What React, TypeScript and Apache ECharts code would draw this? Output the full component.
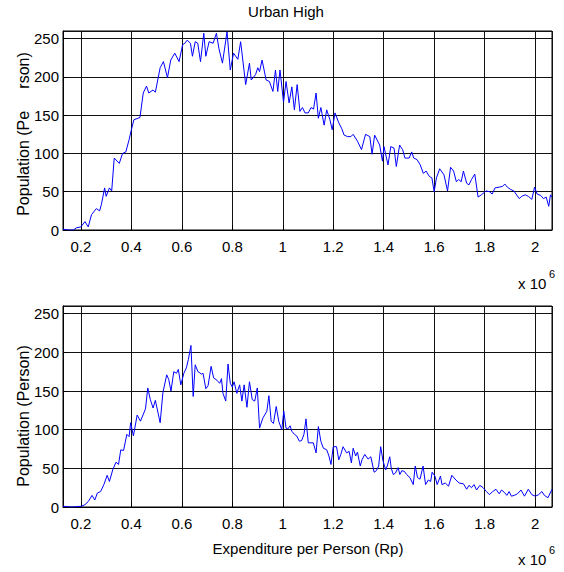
import React, { useEffect, useRef } from 'react';
import * as echarts from 'echarts';

const titleText = 'Urban High';
const xAxisTitle = 'Expenditure per Person (Rp)';
const yTitleTop = 'Population (Pe\u00a0\u00a0\u00a0\u00a0\u00a0rson)';
const yTitleBottom = 'Population (Person)';
const xMin = 0.129;
const xMax = 2.067;
const yMin = 0;
const yMax = 260;
const yStep = 50;

const topX = [0.129,0.151,0.17,0.183,0.2,0.216,0.229,0.242,0.261,0.274,0.281,0.294,0.3,0.313,0.322,0.332,0.352,0.365,0.378,0.391,0.4,0.41,0.434,0.447,0.46,0.469,0.486,0.495,0.514,0.527,0.543,0.556,0.572,0.589,0.603,0.612,0.621,0.634,0.642,0.653,0.663,0.674,0.687,0.695,0.708,0.724,0.737,0.747,0.761,0.779,0.792,0.805,0.822,0.833,0.853,0.868,0.875,0.892,0.901,0.908,0.918,0.934,0.947,0.961,0.971,0.98,0.989,1.003,1.013,1.025,1.036,1.046,1.057,1.068,1.078,1.088,1.101,1.112,1.122,1.132,1.141,1.151,1.164,1.174,1.187,1.196,1.207,1.222,1.233,1.243,1.257,1.27,1.279,1.296,1.312,1.328,1.345,1.354,1.364,1.384,1.395,1.401,1.417,1.428,1.441,1.45,1.463,1.475,1.484,1.501,1.511,1.519,1.532,1.545,1.557,1.568,1.581,1.591,1.6,1.609,1.622,1.639,1.653,1.665,1.677,1.688,1.697,1.707,1.716,1.729,1.738,1.748,1.761,1.774,1.787,1.806,1.819,1.83,1.841,1.858,1.871,1.88,1.89,1.903,1.916,1.937,1.947,1.961,1.973,1.987,1.998,2.008,2.023,2.033,2.044,2.054,2.061,2.067];
const topY = [1,0,0,3,4,11,4,20,28,25,33,55,44,55,51,94,87,100,102,118,131,144,147,179,188,179,183,180,212,220,199,222,231,220,242,244,248,244,227,246,244,220,257,227,246,244,257,237,218,259,209,231,223,246,190,218,196,203,212,207,222,196,194,181,209,181,209,167,194,166,187,157,190,155,160,153,153,160,158,179,146,160,137,157,144,131,153,140,133,124,122,122,125,116,105,125,122,99,124,111,90,109,85,109,107,83,111,105,94,94,102,94,92,85,74,77,70,68,50,68,80,72,51,82,77,63,66,63,77,61,59,66,73,43,46,51,50,47,55,56,57,60,56,53,51,41,44,46,44,40,56,47,45,41,43,31,46,43];

const bottomX = [0.129,0.164,0.203,0.216,0.229,0.244,0.255,0.265,0.278,0.291,0.304,0.313,0.326,0.339,0.349,0.358,0.369,0.382,0.391,0.397,0.408,0.423,0.436,0.456,0.465,0.475,0.486,0.495,0.514,0.525,0.54,0.548,0.557,0.568,0.579,0.586,0.596,0.608,0.618,0.626,0.636,0.645,0.653,0.664,0.678,0.684,0.695,0.704,0.716,0.726,0.739,0.75,0.757,0.763,0.774,0.783,0.792,0.8,0.807,0.818,0.829,0.838,0.847,0.858,0.868,0.879,0.889,0.899,0.908,0.921,0.937,0.945,0.954,0.963,0.974,0.984,0.996,1.004,1.013,1.02,1.029,1.036,1.046,1.055,1.066,1.075,1.084,1.092,1.101,1.112,1.121,1.132,1.141,1.151,1.161,1.174,1.183,1.191,1.2,1.213,1.222,1.23,1.239,1.253,1.263,1.272,1.279,1.289,1.296,1.307,1.314,1.325,1.338,1.349,1.362,1.371,1.38,1.388,1.397,1.408,1.414,1.424,1.43,1.438,1.447,1.457,1.464,1.472,1.482,1.491,1.504,1.517,1.525,1.534,1.544,1.556,1.566,1.577,1.586,1.592,1.603,1.612,1.625,1.631,1.644,1.657,1.67,1.686,1.699,1.716,1.729,1.738,1.748,1.758,1.768,1.781,1.794,1.807,1.819,1.832,1.845,1.858,1.867,1.878,1.888,1.897,1.906,1.917,1.93,1.944,1.958,1.973,1.987,2.001,2.014,2.027,2.037,2.051,2.067];
const bottomY = [1,0,1,3,7,15,9,18,20,29,41,33,48,58,55,74,73,94,91,109,92,119,111,127,154,139,128,138,109,148,171,165,150,175,173,178,158,173,180,191,209,143,184,175,172,173,153,157,182,167,164,160,166,147,137,185,160,155,162,147,158,137,158,129,162,139,137,154,102,115,124,144,111,108,130,111,100,124,102,101,105,98,94,92,85,86,94,114,83,83,83,70,104,85,76,74,66,55,78,78,61,68,78,70,72,57,76,66,71,53,61,68,62,65,45,47,53,78,60,48,53,65,50,42,44,51,42,47,46,42,38,29,53,38,36,53,29,35,33,45,40,29,40,29,31,27,41,35,31,30,23,28,25,29,22,28,25,20,16,20,23,17,22,19,15,20,14,15,17,22,14,23,16,14,16,20,15,12,23];

const FONT = '"Liberation Sans", Arial, Helvetica, sans-serif';

const fmtX = (v: number) => String(Math.round(v * 10) / 10);

function xAxisFor(i: number) {
  return {
    type: 'value',
    gridIndex: i,
    min: xMin,
    max: xMax,
    splitNumber: 10,
    axisLine: { show: true, lineStyle: { color: '#000', width: 1 } },
    axisTick: { show: true, inside: true, length: 5, lineStyle: { color: '#000' } },
    axisLabel: {
      color: '#000', fontSize: 15, fontFamily: FONT, margin: 9,
      showMinLabel: false, showMaxLabel: false, formatter: fmtX,
    },
    splitLine: { show: true, lineStyle: { color: '#111', width: 1 } },
  };
}

function yAxisFor(i: number) {
  return {
    type: 'value',
    gridIndex: i,
    min: yMin,
    max: yMax,
    interval: yStep,
    axisLine: { show: true, lineStyle: { color: '#000', width: 1 } },
    axisTick: { show: true, inside: true, length: 5, lineStyle: { color: '#000' } },
    axisLabel: {
      color: '#000', fontSize: 15, fontFamily: FONT, margin: 4,
      showMaxLabel: false,
    },
    splitLine: { show: true, lineStyle: { color: '#111', width: 1 } },
  };
}

export default function App() {
  const ref = useRef<HTMLDivElement>(null);
  useEffect(() => {
    if (!ref.current) return;
    const chart = echarts.init(ref.current, null, { renderer: 'svg' });
    const txt = (text: string, x: number, y: number, size: number, extra: any = {}) => ({
      type: 'text', x, y, ...extra,
      style: { text, fill: '#000', font: `${size}px ${FONT}`, textAlign: 'center', textVerticalAlign: 'middle', ...(extra.style || {}) },
    });
    chart.setOption({
      animation: false,
      backgroundColor: '#fff',
      grid: [
        { left: 63, top: 31, width: 489, height: 199, show: true, borderColor: '#000', borderWidth: 1, backgroundColor: 'transparent' },
        { left: 63, top: 306, width: 489, height: 201, show: true, borderColor: '#000', borderWidth: 1, backgroundColor: 'transparent' },
      ],
      xAxis: [xAxisFor(0), xAxisFor(1)],
      yAxis: [yAxisFor(0), yAxisFor(1)],
      series: [
        {
          type: 'line', xAxisIndex: 0, yAxisIndex: 0, symbol: 'none', showSymbol: false,
          data: topX.map((x, i) => [x, topY[i]]),
          lineStyle: { color: '#0000ff', width: 1 }, itemStyle: { color: '#0000ff' },
        },
        {
          type: 'line', xAxisIndex: 1, yAxisIndex: 1, symbol: 'none', showSymbol: false,
          data: bottomX.map((x, i) => [x, bottomY[i]]),
          lineStyle: { color: '#0000ff', width: 1 }, itemStyle: { color: '#0000ff' },
        },
      ],
      graphic: [
        txt(titleText, 286, 11, 15),
        txt(xAxisTitle, 308, 548, 15),
        txt(yTitleTop, 23, 134, 16, { rotation: Math.PI / 2 }),
        txt(yTitleBottom, 23, 416, 16, { rotation: Math.PI / 2 }),
        txt('x 10', 518, 283, 15, { style: { textAlign: 'left' } }),
        txt('6', 549, 274, 11, { style: { textAlign: 'left' } }),
        txt('x 10', 518, 559, 15, { style: { textAlign: 'left' } }),
        txt('6', 549, 550, 11, { style: { textAlign: 'left' } }),
      ],
    });
    return () => chart.dispose();
  }, []);
  return <div ref={ref} style={{ position: 'absolute', left: 0, top: 0, width: 564, height: 572 }} />;
}
